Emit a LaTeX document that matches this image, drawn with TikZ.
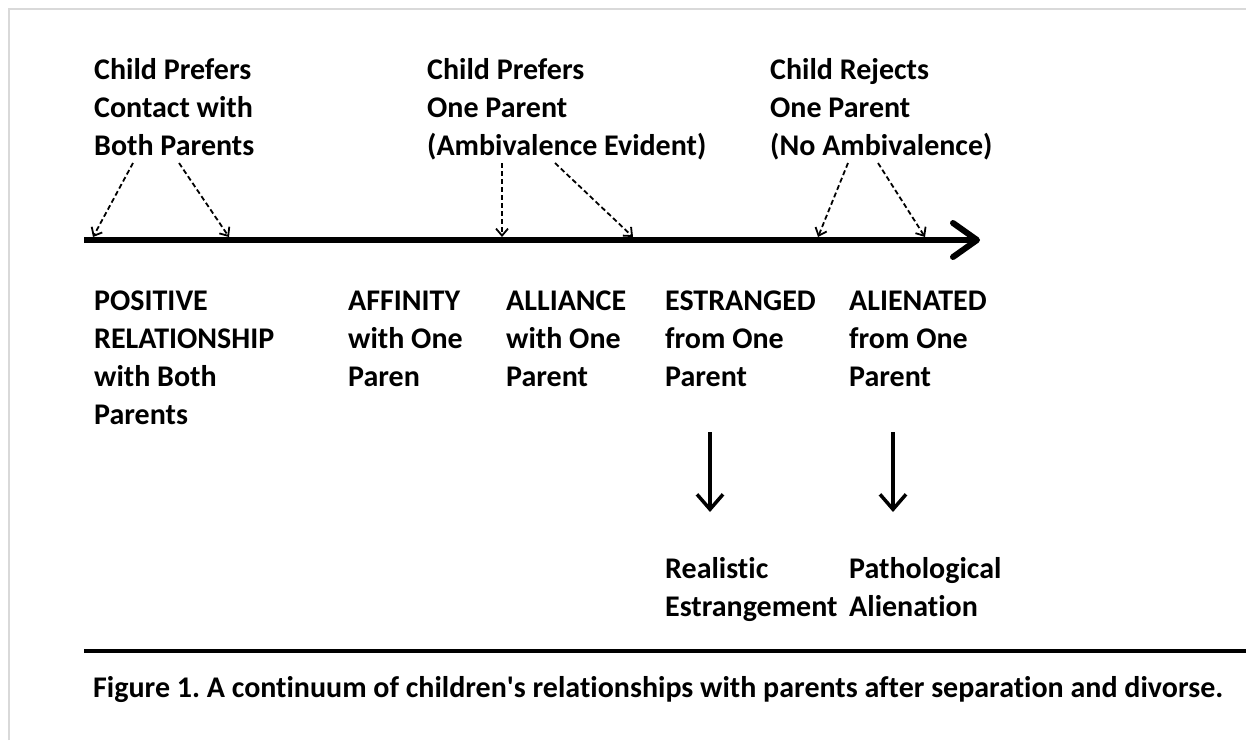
\documentclass[tikz,border=0pt]{standalone}
\usepackage{fontspec}
\setmainfont{Carlito}[Ligatures={NoCommon}]
\usetikzlibrary{arrows.meta}
\frenchspacing

\begin{document}
\begin{tikzpicture}[x=1pt, y=-1pt,
  term/.style={anchor=base west, align=left, inner sep=0pt, font=\fontsize{30}{38}\selectfont\bfseries},
  timeline/.style={line width=6pt, -{Straight Barb[length=24pt, width=34pt, round]}},
  hint/.style={line width=1.8pt, dash pattern=on 5pt off 3pt, -{Straight Barb[length=7pt, width=12pt]}},
  outcome/.style={line width=3.5pt, -{Straight Barb[length=15pt, width=26pt]}}
]
\useasboundingbox (0,0) rectangle (1246,740);
\draw[line width=1.5pt, black!15] (9,740) -- (9,9) -- (1246,9);

% what the child prefers or rejects
\node[term] (pref1) at (94,155) {Child Prefers\\Contact with\\Both Parents};
\node[term] (pref2) at (427,155) {Child Prefers\\One Parent\\(Ambivalence Evident)};
\node[term] (rej) at (770,155) {Child Rejects\\One Parent\\(No Ambivalence)};

% the continuum
\coordinate (tlL) at (84,240);
\coordinate (tlR) at (980,240);
\draw[timeline] (tlL) -- (tlR);

\coordinate (hs1) at (133,163); \coordinate (he1) at (93,237);
\coordinate (hs2) at (179,163); \coordinate (he2) at (229,237);
\coordinate (hs3) at (502,163); \coordinate (he3) at (502,237);
\coordinate (hs4) at (555,163); \coordinate (he4) at (633,237);
\coordinate (hs5) at (848,163); \coordinate (he5) at (818,237);
\coordinate (hs6) at (878,163); \coordinate (he6) at (925,237);
\foreach \i in {1,...,6} {
  \draw[hint] (hs\i) -- (he\i);
}

% relationship types
\node[term] (pos) at (94,424) {POSITIVE\\RELATIONSHIP\\with Both\\Parents};
\node[term] (aff) at (348,386) {AFFINITY\\with One\\Paren};
\node[term] (all) at (506,386) {ALLIANCE\\with One\\Parent};
\node[term] (est) at (665,386) {ESTRANGED\\from One\\Parent};
\node[term] (ali) at (849,386) {ALIENATED\\from One\\Parent};

% outcomes
\coordinate (os1) at (710,432); \coordinate (oe1) at (710,512);
\coordinate (os2) at (893,432); \coordinate (oe2) at (893,512);
\foreach \i in {1,2} {
  \draw[outcome] (os\i) -- (oe\i);
}
\node[term] (real) at (665,616) {Realistic\\Estrangement};
\node[term] (patho) at (849,616) {Pathological\\Alienation};

% caption
\coordinate (ruleL) at (84,651);
\coordinate (ruleR) at (1246,651);
\draw[line width=4pt] (ruleL) -- (ruleR);
\node[term, font=\fontsize{30}{36}\selectfont\bfseries] (cap) at (93,697)
  {Figure 1. A continuum of children\textquotesingle s relationships with parents after separation and divorse.};
\end{tikzpicture}
\end{document}
